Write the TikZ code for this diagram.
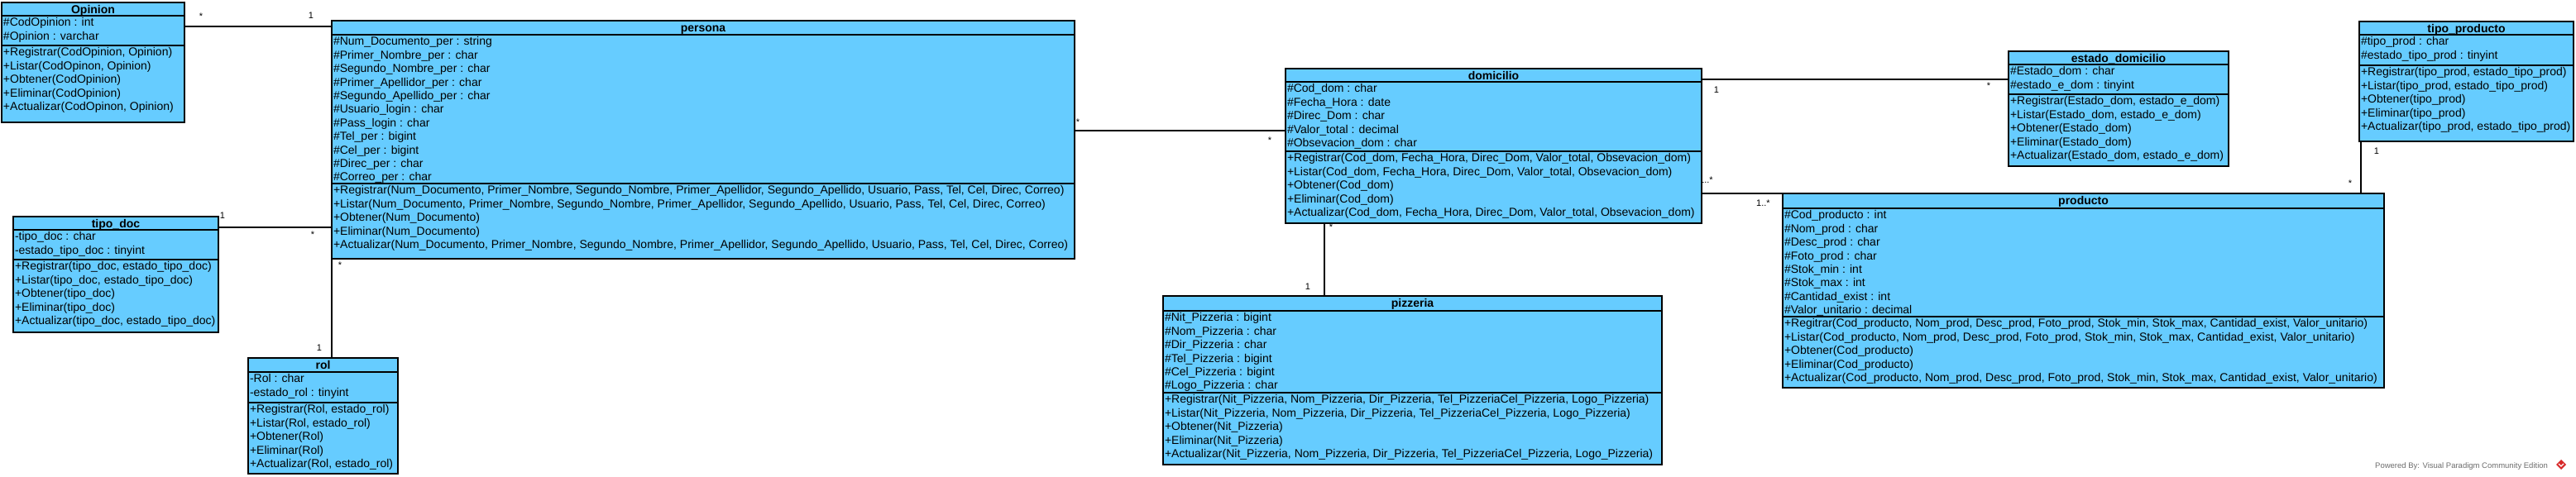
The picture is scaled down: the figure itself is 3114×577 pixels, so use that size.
\documentclass[tikz,border=0pt]{standalone}
\usepackage{fontspec}
\setmainfont{Liberation Sans}
\usetikzlibrary{calc}
\definecolor{cfill}{RGB}{102,204,255}
\definecolor{wmgray}{RGB}{110,110,110}
\definecolor{vpred}{RGB}{215,40,40}
\newcommand\rs{\rule[-4.4pt]{0pt}{16.4pt}}
\newcommand\umlbox[6]{%
  \node[cbox, minimum width={(#4)-(#2)}, minimum height={(#5)-(#3)}, anchor=north west] (#1) at (#2,#3) {};
  \node[ctitle] (#1-title) at ([yshift=-13.4pt]#1.north) {#6};}
\newcommand\umlsep[2]{\draw[sepline] (#1.west |- 0,#2) -- (#1.east |- 0,#2);}
\newcommand\umlcomp[4]{\node[ctext] (#1-#2) at (#1.west |- 0,#3) {#4};}
\tikzset{
  cbox/.style={draw=black, fill=cfill, line width=1.2pt, inner sep=0pt, outer sep=0pt},
  sepline/.style={draw=black, line width=1.2pt},
  ctitle/.style={anchor=base, inner sep=0pt, font=\fontsize{14}{16}\selectfont\bfseries},
  ctext/.style={anchor=north west, inner sep=0pt, xshift=1.8pt, yshift=-2.5pt, align=left,
    font=\fontsize{14}{16.4}\selectfont, execute at begin node=\rs},
  conn/.style={draw=black, line width=1.2pt},
  mult/.style={anchor=base, inner sep=0pt, font=\fontsize{11}{13}\selectfont},
}
\begin{document}
\begin{tikzpicture}[x=1pt, y=-1pt]
\useasboundingbox (0,0) rectangle (3114,577);
\fill[white] (0,0) rectangle (3114,577);

% ---------- connectors ----------
\coordinate (k1) at (0,32);
\coordinate (k2) at (0,275);
\coordinate (k4) at (0,158);
\coordinate (k5) at (1601,0);
\coordinate (k6) at (0,96);
\coordinate (k8) at (2854,0);

% ---------- multiplicity labels ----------
\node[mult] (m1a) at (243,24) {*};
\node[mult] (m1b) at (376,23) {1};
\node[mult] (m2a) at (269,265) {1};
\node[mult] (m2b) at (378,288) {*};
\node[mult] (m3a) at (411,325) {*};
\node[mult] (m3b) at (386,424) {1};
\node[mult] (m4a) at (1303,152) {*};
\node[mult] (m4b) at (1535,174) {*};
\node[mult] (m5a) at (1609,279) {*};
\node[mult] (m5b) at (1581,350) {1};
\node[mult] (m6a) at (2075,113) {1};
\node[mult] (m6b) at (2404,108) {*};
\node[mult, anchor=base west] (m7a) at (2054,222) {1..*};
\node[mult, anchor=base west] (m7b) at (2123,250) {1..*};
\node[mult] (m8a) at (2873,187) {1};
\node[mult] (m8b) at (2841,226) {*};

% ---------- Opinion ----------
\umlbox{Opinion}{2}{3}{223}{148}{Opinion}
\umlsep{Opinion}{19}
\umlsep{Opinion}{55}
\umlcomp{Opinion}{a}{19}{\#CodOpinion : int\\\#Opinion : varchar}
\umlcomp{Opinion}{m}{55}{+Registrar(CodOpinion, Opinion)\\+Listar(CodOpinon, Opinion)\\+Obtener(CodOpinion)\\+Eliminar(CodOpinion)\\+Actualizar(CodOpinon, Opinion)}

% ---------- persona ----------
\umlbox{persona}{401}{25}{1299}{313}{persona}
\umlsep{persona}{42}
\umlsep{persona}{222}
\umlcomp{persona}{a}{42}{\#Num\_Documento\_per : string\\\#Primer\_Nombre\_per : char\\\#Segundo\_Nombre\_per : char\\\#Primer\_Apellidor\_per : char\\\#Segundo\_Apellido\_per : char\\\#Usuario\_login : char\\\#Pass\_login : char\\\#Tel\_per : bigint\\\#Cel\_per : bigint\\\#Direc\_per : char\\\#Correo\_per : char}
\umlcomp{persona}{m}{222}{+Registrar(Num\_Documento, Primer\_Nombre, Segundo\_Nombre, Primer\_Apellidor, Segundo\_Apellido, Usuario, Pass, Tel, Cel, Direc, Correo)\\+Listar(Num\_Documento, Primer\_Nombre, Segundo\_Nombre, Primer\_Apellidor, Segundo\_Apellido, Usuario, Pass, Tel, Cel, Direc, Correo)\\+Obtener(Num\_Documento)\\+Eliminar(Num\_Documento)\\+Actualizar(Num\_Documento, Primer\_Nombre, Segundo\_Nombre, Primer\_Apellidor, Segundo\_Apellido, Usuario, Pass, Tel, Cel, Direc, Correo)}

% ---------- tipo_doc ----------
\umlbox{tipodoc}{16}{262}{264}{402}{tipo\_doc}
\umlsep{tipodoc}{278}
\umlsep{tipodoc}{314}
\umlcomp{tipodoc}{a}{278}{-tipo\_doc : char\\-estado\_tipo\_doc : tinyint}
\umlcomp{tipodoc}{m}{314}{+Registrar(tipo\_doc, estado\_tipo\_doc)\\+Listar(tipo\_doc, estado\_tipo\_doc)\\+Obtener(tipo\_doc)\\+Eliminar(tipo\_doc)\\+Actualizar(tipo\_doc, estado\_tipo\_doc)}

% ---------- rol ----------
\umlbox{rol}{300}{433}{481}{573}{rol}
\umlsep{rol}{450}
\umlsep{rol}{487}
\umlcomp{rol}{a}{450}{-Rol : char\\-estado\_rol : tinyint}
\umlcomp{rol}{m}{487}{+Registrar(Rol, estado\_rol)\\+Listar(Rol, estado\_rol)\\+Obtener(Rol)\\+Eliminar(Rol)\\+Actualizar(Rol, estado\_rol)}

% ---------- domicilio ----------
\umlbox{domicilio}{1554}{83}{2057}{270}{domicilio}
\umlsep{domicilio}{99}
\umlsep{domicilio}{183}
\umlcomp{domicilio}{a}{99}{\#Cod\_dom : char\\\#Fecha\_Hora : date\\\#Direc\_Dom : char\\\#Valor\_total : decimal\\\#Obsevacion\_dom : char}
\umlcomp{domicilio}{m}{183}{+Registrar(Cod\_dom, Fecha\_Hora, Direc\_Dom, Valor\_total, Obsevacion\_dom)\\+Listar(Cod\_dom, Fecha\_Hora, Direc\_Dom, Valor\_total, Obsevacion\_dom)\\+Obtener(Cod\_dom)\\+Eliminar(Cod\_dom)\\+Actualizar(Cod\_dom, Fecha\_Hora, Direc\_Dom, Valor\_total, Obsevacion\_dom)}

% ---------- pizzeria ----------
\umlbox{pizzeria}{1406}{358}{2009}{562}{pizzeria}
\umlsep{pizzeria}{376}
\umlsep{pizzeria}{475}
\umlcomp{pizzeria}{a}{376}{\#Nit\_Pizzeria : bigint\\\#Nom\_Pizzeria : char\\\#Dir\_Pizzeria : char\\\#Tel\_Pizzeria : bigint\\\#Cel\_Pizzeria : bigint\\\#Logo\_Pizzeria : char}
\umlcomp{pizzeria}{m}{475}{+Registrar(Nit\_Pizzeria, Nom\_Pizzeria, Dir\_Pizzeria, Tel\_PizzeriaCel\_Pizzeria, Logo\_Pizzeria)\\+Listar(Nit\_Pizzeria, Nom\_Pizzeria, Dir\_Pizzeria, Tel\_PizzeriaCel\_Pizzeria, Logo\_Pizzeria)\\+Obtener(Nit\_Pizzeria)\\+Eliminar(Nit\_Pizzeria)\\+Actualizar(Nit\_Pizzeria, Nom\_Pizzeria, Dir\_Pizzeria, Tel\_PizzeriaCel\_Pizzeria, Logo\_Pizzeria)}

% ---------- estado_domicilio ----------
\umlbox{estadodom}{2428}{62}{2694}{201}{estado\_domicilio}
\umlsep{estadodom}{78}
\umlsep{estadodom}{114}
\umlcomp{estadodom}{a}{78}{\#Estado\_dom : char\\\#estado\_e\_dom : tinyint}
\umlcomp{estadodom}{m}{114}{+Registrar(Estado\_dom, estado\_e\_dom)\\+Listar(Estado\_dom, estado\_e\_dom)\\+Obtener(Estado\_dom)\\+Eliminar(Estado\_dom)\\+Actualizar(Estado\_dom, estado\_e\_dom)}

% ---------- producto ----------
\umlbox{producto}{2155}{234}{2882}{469}{producto}
\umlsep{producto}{252}
\umlsep{producto}{383}
\umlcomp{producto}{a}{252}{\#Cod\_producto : int\\\#Nom\_prod : char\\\#Desc\_prod : char\\\#Foto\_prod : char\\\#Stok\_min : int\\\#Stok\_max : int\\\#Cantidad\_exist : int\\\#Valor\_unitario : decimal}
\umlcomp{producto}{m}{383}{+Regitrar(Cod\_producto, Nom\_prod, Desc\_prod, Foto\_prod, Stok\_min, Stok\_max, Cantidad\_exist, Valor\_unitario)\\+Listar(Cod\_producto, Nom\_prod, Desc\_prod, Foto\_prod, Stok\_min, Stok\_max, Cantidad\_exist, Valor\_unitario)\\+Obtener(Cod\_producto)\\+Eliminar(Cod\_producto)\\+Actualizar(Cod\_producto, Nom\_prod, Desc\_prod, Foto\_prod, Stok\_min, Stok\_max, Cantidad\_exist, Valor\_unitario)}

% ---------- tipo_producto ----------
\umlbox{tipoprod}{2852}{26}{3111}{171}{tipo\_producto}
\umlsep{tipoprod}{42}
\umlsep{tipoprod}{79}
\umlcomp{tipoprod}{a}{42}{\#tipo\_prod : char\\\#estado\_tipo\_prod : tinyint}
\umlcomp{tipoprod}{m}{79}{+Registrar(tipo\_prod, estado\_tipo\_prod)\\+Listar(tipo\_prod, estado\_tipo\_prod)\\+Obtener(tipo\_prod)\\+Eliminar(tipo\_prod)\\+Actualizar(tipo\_prod, estado\_tipo\_prod)}

% ---------- connector lines ----------
\draw[conn] (Opinion.east |- k1) -- (persona.west |- k1);
\draw[conn] (tipodoc.east |- k2) -- (persona.west |- k2);
\draw[conn] (persona.south west) -- (persona.south west |- rol.north);
\draw[conn] (persona.east |- k4) -- (domicilio.west |- k4);
\draw[conn] (domicilio.south -| k5) -- (pizzeria.north -| k5);
\draw[conn] (domicilio.east |- k6) -- (estadodom.west |- k6);
\draw[conn] (domicilio.east |- producto.north west) -- (producto.north west);
\draw[conn] (tipoprod.south -| k8) -- (producto.north -| k8);

% ---------- watermark ----------
\node[anchor=base west, inner sep=0pt, text=wmgray, font=\fontsize{9.5}{11}\selectfont] (wm) at (2871,566) {Powered By: Visual Paradigm Community Edition};
\fill[vpred] (3096,556) -- (3102,562) -- (3096,568) -- (3090,562) -- cycle;
\draw[white, line width=1.2pt] (3093,561) -- (3096,564) -- (3099,561);
\end{tikzpicture}
\end{document}
